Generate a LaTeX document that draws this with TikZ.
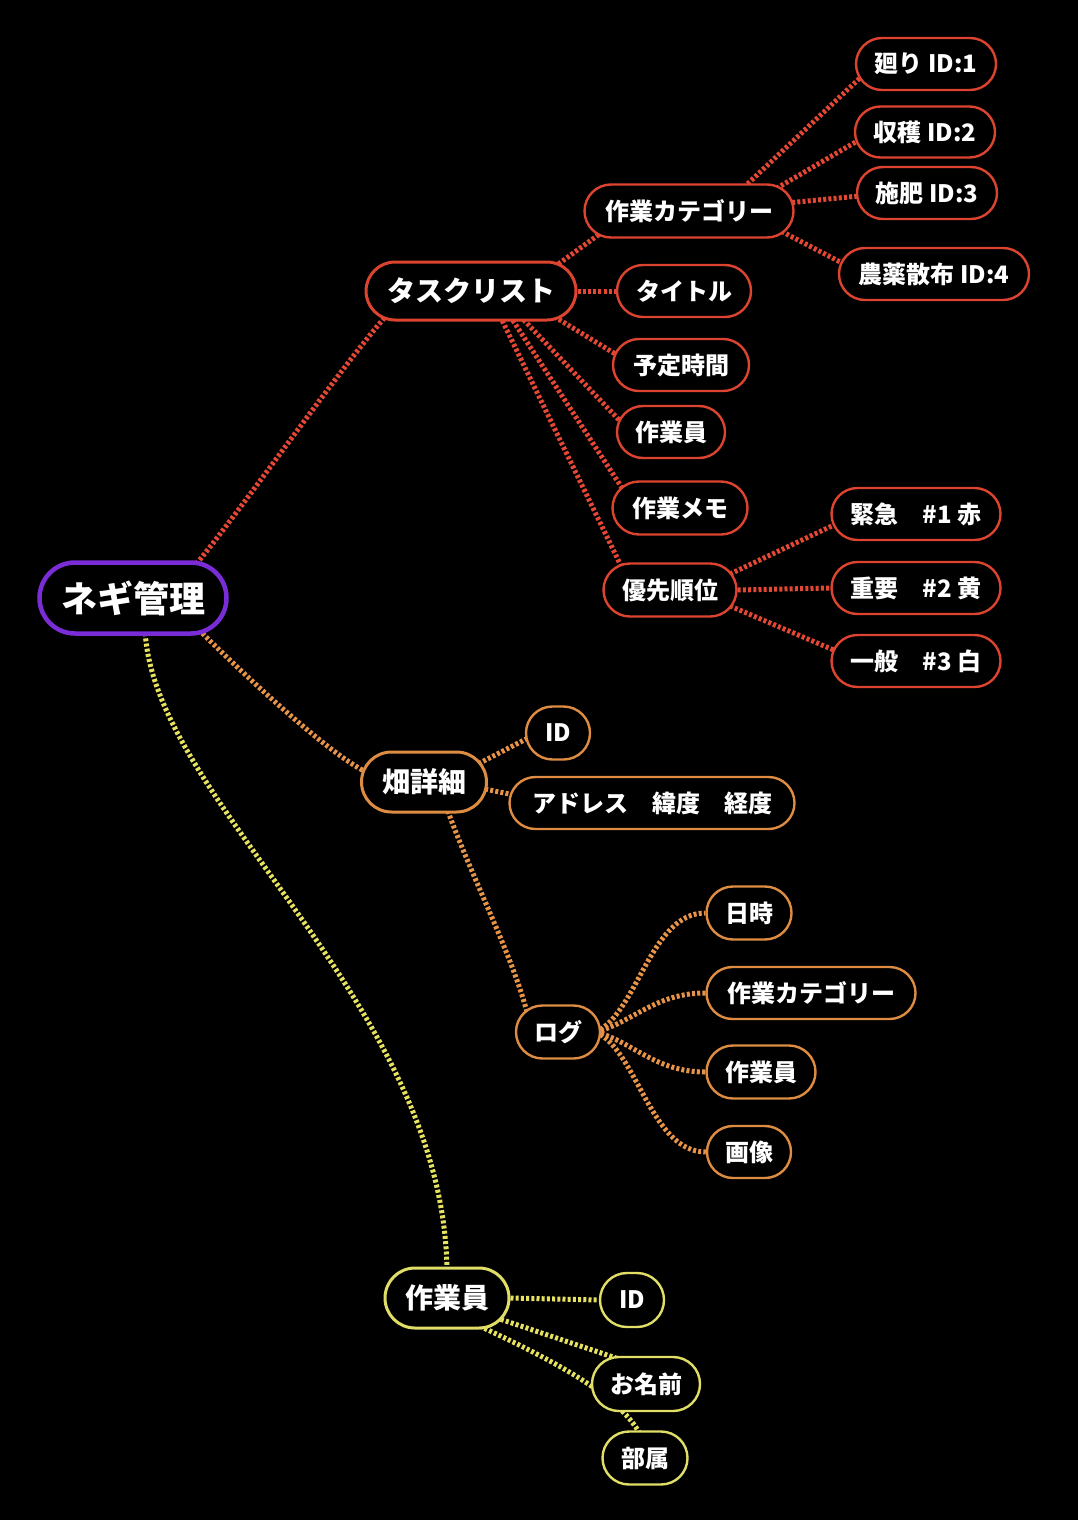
\documentclass[tikz,border=0pt]{standalone}
\usepackage{fontspec}
\setmainfont{Noto Sans CJK JP}
\usetikzlibrary{shapes.misc,calc}
\definecolor{cP}{RGB}{122,45,215}
\definecolor{cRb}{RGB}{220,68,48}
\definecolor{cR}{RGB}{228,72,52}
\definecolor{cOb}{RGB}{222,140,66}
\definecolor{cO}{RGB}{232,148,72}
\definecolor{cYb}{RGB}{224,222,102}
\definecolor{cY}{RGB}{230,226,96}
\pgfdeclarelayer{bg}
\pgfdeclarelayer{edges}
\pgfsetlayers{bg,edges,main}
\tikzset{
  box/.style={rounded rectangle, draw, fill=black, text=white, inner sep=0pt, line width=2.4pt},
  lvzero/.style={box, draw=cP, line width=4.5pt, font=\fontsize{36pt}{40pt}\selectfont\bfseries},
  lvone/.style={box, line width=3pt, font=\fontsize{28pt}{32pt}\selectfont\bfseries},
  lvtwo/.style={box, font=\fontsize{24pt}{28pt}\selectfont\bfseries},
  rb/.style={draw=cRb}, ob/.style={draw=cOb}, yb/.style={draw=cYb},
  sz/.style 2 args={minimum width=#1pt, minimum height=#2pt},
  e/.style={line width=5pt, dash pattern=on 3pt off 2.2pt},
}
\begin{document}
\begin{tikzpicture}[x=1pt,y=-1pt]
\begin{pgfonlayer}{bg}
\fill[black] (0,0) rectangle (1078,1520);
\end{pgfonlayer}
\useasboundingbox (0,0) rectangle (1078,1520);

% root
\node[lvzero, sz={187}{71}] (root) at (133,598) {ネギ管理};

% red branch
\node[lvone, rb, sz={210}{58}] (tl) at (471,291) {タスクリスト};
\node[lvtwo, rb, sz={209}{53}] (cat) at (689,211) {作業カテゴリー};
\node[lvtwo, rb, sz={134}{52}] (title) at (684,291) {タイトル};
\node[lvtwo, rb, sz={136}{52}] (plan) at (681,365) {予定時間};
\node[lvtwo, rb, sz={108}{52}] (rwk) at (671,432) {作業員};
\node[lvtwo, rb, sz={135}{53}] (memo) at (680,508) {作業メモ};
\node[lvtwo, rb, sz={133}{53}] (prio) at (670,590) {優先順位};
\node[lvtwo, rb, sz={169}{52}] (urg) at (916,514) {緊急　\#1 赤};
\node[lvtwo, rb, sz={169}{52}] (imp) at (916,588) {重要　\#2 黄};
\node[lvtwo, rb, sz={169}{52}] (gen) at (916,661) {一般　\#3 白};
\node[lvtwo, rb, sz={140}{52}] (mawari) at (926,64) {廻り ID:1};
\node[lvtwo, rb, sz={140}{51}] (harv) at (925,132) {収穫 ID:2};
\node[lvtwo, rb, sz={140}{52}] (fert) at (927,193) {施肥 ID:3};
\node[lvtwo, rb, sz={190}{52}] (pest) at (934,274) {農薬散布 ID:4};

% orange branch
\node[lvone, ob, sz={125}{60}] (hd) at (424,782) {畑詳細};
\node[lvtwo, ob, sz={64}{53}] (hid) at (558,733) {ID};
\node[lvtwo, ob, sz={285}{52}] (addr) at (652,803) {アドレス　緯度　経度};
\node[lvtwo, ob, sz={84}{53}] (log) at (558,1032) {ログ};
\node[lvtwo, ob, sz={85}{53}] (date) at (749,913) {日時};
\node[lvtwo, ob, sz={209}{52}] (lcat) at (811,993) {作業カテゴリー};
\node[lvtwo, ob, sz={109}{53}] (lwk) at (761,1072) {作業員};
\node[lvtwo, ob, sz={84}{52}] (img) at (749,1152) {画像};

% yellow branch
\node[lvone, yb, sz={124}{60}] (yw) at (447,1298) {作業員};
\node[lvtwo, yb, sz={64}{54}] (yid) at (632,1300) {ID};
\node[lvtwo, yb, sz={108}{54}] (name) at (646,1384) {お名前};
\node[lvtwo, yb, sz={85}{53}] (dept) at (645,1458) {部属};

\begin{pgfonlayer}{edges}
% red
\draw[e,cR] ($(root)+(60,-30)$) .. controls +(50,-60) and +(-45,50) .. ($(tl)+(-84,24)$);
\draw[e,cR] ($(tl)+(79,-21)$) -- ($(cat)+(-88,22)$);
\draw[e,cR] (tl.east) -- (title.west);
\draw[e,cR] ($(tl)+(79,23)$) -- ($(plan)+(-64,-10)$);
\draw[e,cR] ($(tl)+(49,25)$) -- ($(rwk)+(-50,-10)$);
\draw[e,cR] ($(tl)+(39,25)$) -- ($(memo)+(-56,-17)$);
\draw[e,cR] ($(tl)+(29,25)$) -- ($(prio)+(-47,-20)$);
\draw[e,cR] ($(cat)+(51,-20)$) -- ($(mawari)+(-64,12)$);
\draw[e,cR] ($(cat)+(83,-20)$) -- ($(harv)+(-66,8)$);
\draw[e,cR] ($(cat)+(98,-8)$) -- ($(fert)+(-68,3)$);
\draw[e,cR] ($(cat)+(88,18)$) -- ($(pest)+(-90,-10)$);
\draw[e,cR] ($(prio)+(60,-16)$) -- ($(urg)+(-80,10)$);
\draw[e,cR] (prio.east) -- (imp.west);
\draw[e,cR] ($(prio)+(60,16)$) -- ($(gen)+(-80,-10)$);
% orange
\draw[e,cO] ($(root)+(62,28)$) .. controls +(45,45) and +(-40,-20) .. ($(hd)+(-58,-10)$);
\draw[e,cO] ($(hd)+(50,-16)$) -- ($(hid)+(-28,4)$);
\draw[e,cO] ($(hd)+(56,6)$) -- ($(addr)+(-138,-8)$);
\draw[e,cO] ($(hd)+(22,24)$) .. controls +(25,70) and +(-15,-60) .. ($(log)+(-30,-16)$);
\draw[e,cO] ($(log)+(38,0)$) .. controls +(42,-20) and +(-55,0) .. (date.west);
\draw[e,cO] ($(log)+(38,0)$) .. controls +(37,-10) and +(-50,0) .. (lcat.west);
\draw[e,cO] ($(log)+(38,0)$) .. controls +(37,10) and +(-50,0) .. (lwk.west);
\draw[e,cO] ($(log)+(38,0)$) .. controls +(42,20) and +(-55,0) .. (img.west);
% yellow
\draw[e,cY] ($(root)+(12,30)$) .. controls +(5,170) and +(-2,-270) .. ($(yw)+(0,-26)$);
\draw[e,cY] (yw.east) -- (yid.west);
\draw[e,cY] ($(yw)+(44,18)$) -- ($(name)+(-24,-24)$);
\draw[e,cY] ($(yw)+(28,26)$) .. controls +(85,39) and +(-20,-37) .. ($(dept)+(-5,-24)$);
\end{pgfonlayer}
\end{tikzpicture}
\end{document}
